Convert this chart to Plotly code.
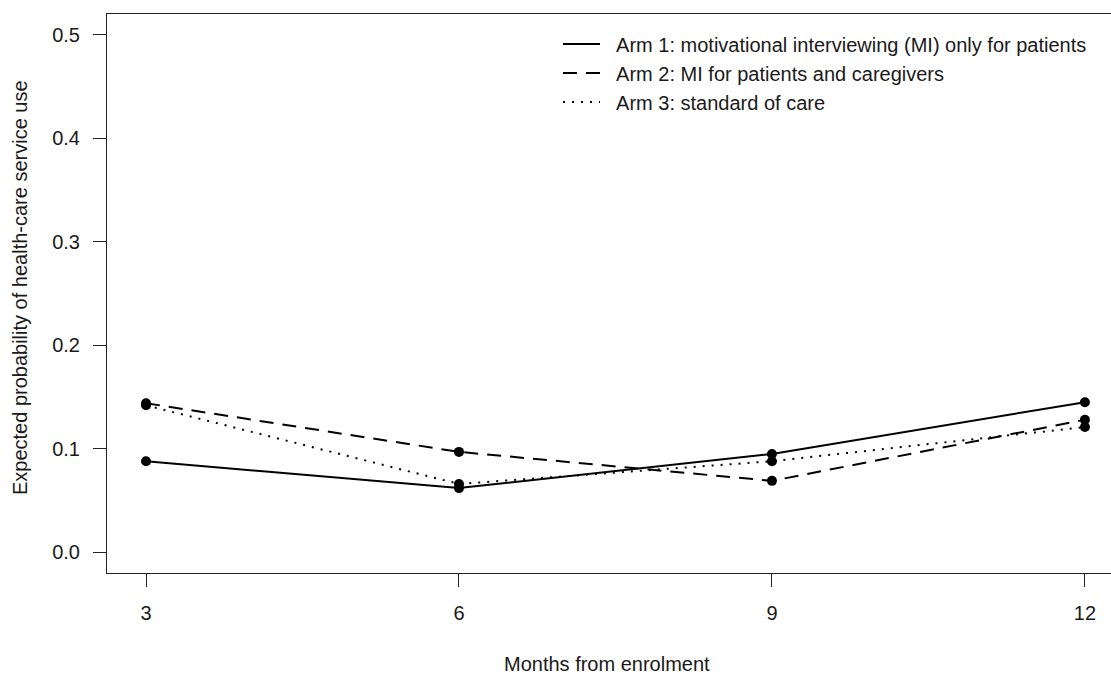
import plotly.graph_objects as go

months = [3, 6, 9, 12]
arm1 = [0.088, 0.062, 0.095, 0.145]
arm2 = [0.144, 0.097, 0.069, 0.128]
arm3 = [0.142, 0.066, 0.088, 0.121]
names = [
    "Arm 1: motivational interviewing (MI) only for patients",
    "Arm 2: MI for patients and caregivers",
    "Arm 3: standard of care",
]
dashes = ["solid", "14px,9px", "2px,7px"]
series = [arm1, arm2, arm3]

FONT = "Liberation Sans, Arial, sans-serif"
INK = "#1a1a1a"
FS = 20

fig = go.Figure()
for vals, nm, dsh in zip(series, names, dashes):
    fig.add_trace(go.Scatter(
        x=months, y=vals, mode="lines+markers",
        line=dict(color="black", width=2, dash=dsh),
        marker=dict(color="black", size=10),
        showlegend=False, name=nm,
    ))
for i, (nm, dsh) in enumerate(zip(names, dashes)):
    fig.add_trace(go.Scatter(
        x=[None], y=[None], mode="lines",
        line=dict(color="black", width=2, dash=dsh),
        name="\u00a0\u00a0" + nm, legendgroup=f"g{i}", showlegend=True,
    ))

fig.update_layout(
    width=1111, height=675,
    margin=dict(l=107, r=0, t=14, b=102),
    plot_bgcolor="white", paper_bgcolor="white",
    font=dict(family=FONT, size=FS, color=INK),
    legend=dict(
        x=0.4492, y=0.981, xanchor="left", yanchor="top",
        bgcolor="rgba(0,0,0,0)", font=dict(size=FS, color=INK),
        tracegroupgap=0, itemwidth=37,
    ),
    xaxis=dict(
        range=[2.626, 12.25], tickvals=months, ticktext=[str(m) for m in months],
        showgrid=False, zeroline=False, showline=True, mirror=True,
        linecolor="#222", linewidth=1, ticks="outside", ticklen=13,
        tickcolor="#222", tickfont=dict(size=FS, color=INK),
        ticklabelstandoff=9,
    ),
    yaxis=dict(
        range=[-0.02, 0.52], tickvals=[0, 0.1, 0.2, 0.3, 0.4, 0.5],
        ticktext=["0.0", "0.1", "0.2", "0.3", "0.4", "0.5"],
        showgrid=False, zeroline=False, showline=True, mirror=False,
        linecolor="#222", linewidth=1, ticks="outside", ticklen=13,
        tickcolor="#222", tickfont=dict(size=FS, color=INK),
        ticklabelstandoff=9,
    ),
    annotations=[
        dict(text="Months from enrolment", xref="x", yref="paper",
             x=7.42, y=-0.162, xanchor="center", yanchor="middle",
             showarrow=False, font=dict(size=FS, color=INK)),
        dict(text="Expected probability of health-care service use",
             xref="paper", yref="paper", x=-0.0865, y=0.51,
             xanchor="center", yanchor="middle", textangle=-90,
             showarrow=False, font=dict(size=FS, color=INK)),
    ],
)

fig.write_html("out.html")
